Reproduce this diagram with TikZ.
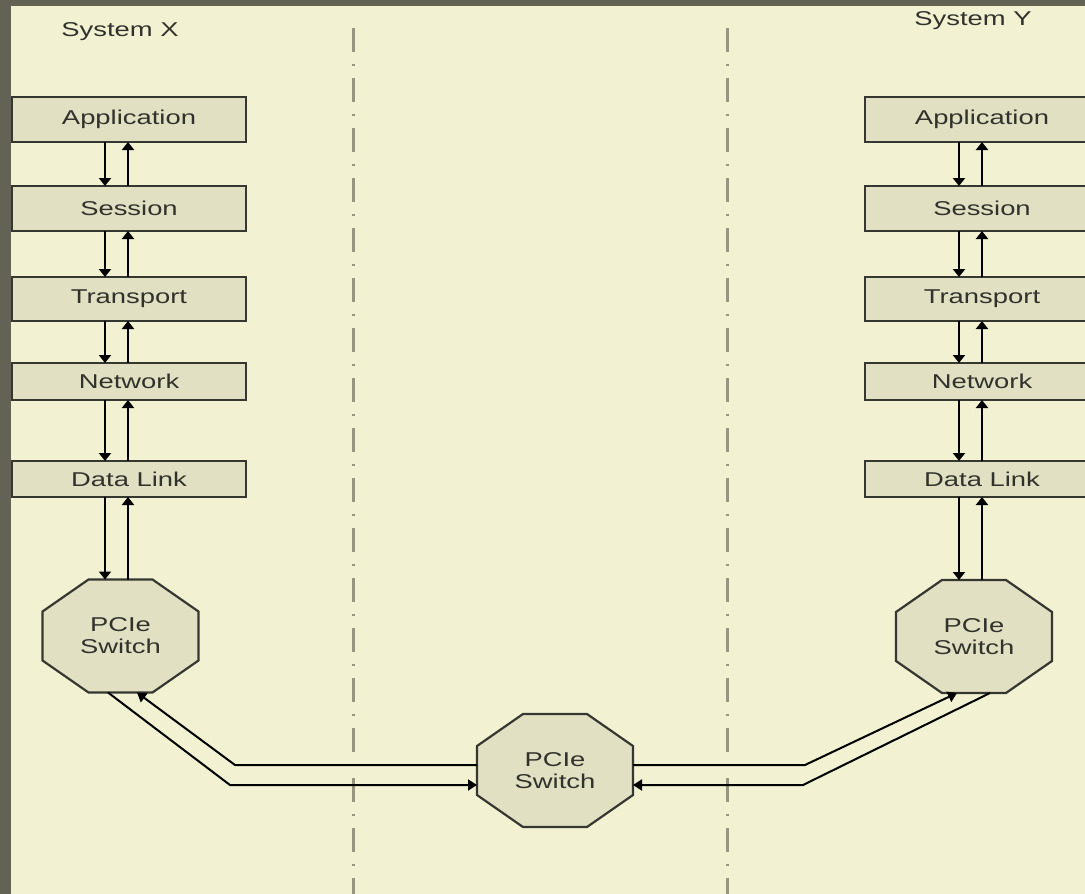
\documentclass[tikz,border=0pt]{standalone}
\usepackage{fontspec}
\setmainfont{Liberation Sans}[FakeStretch=1.37]
\usetikzlibrary{arrows.meta,calc}
\definecolor{darkbg}{RGB}{98,99,85}
\definecolor{cream}{RGB}{242,242,211}
\definecolor{boxfill}{RGB}{225,224,195}
\definecolor{edge}{RGB}{55,55,50}
\definecolor{txt}{RGB}{50,50,45}
\definecolor{dashc}{RGB}{150,150,130}
\pgfdeclarelayer{bgzero}
\pgfdeclarelayer{bgone}
\pgfsetlayers{bgzero,bgone,main}
\newcommand\octoshape[1]{%
  \begin{pgfonlayer}{bgone}
  \filldraw[octline] ($(#1.north west)+(46,0)$) -- ($(#1.north east)+(-46,0)$)
    -- ($(#1.north east)+(0,32)$) -- ($(#1.south east)+(0,-32)$)
    -- ($(#1.south east)+(-46,0)$) -- ($(#1.south west)+(46,0)$)
    -- ($(#1.south west)+(0,-32)$) -- ($(#1.north west)+(0,32)$) -- cycle;
  \end{pgfonlayer}}
\begin{document}
\begin{tikzpicture}[x=1pt,y=-1pt,
  lab/.style={text=txt, font=\fontsize{20}{22}\selectfont},
  layerbox/.style={lab, draw=edge, line width=2.4pt, fill=boxfill, minimum width=234pt, inner sep=0pt, outer sep=0pt},
  octnode/.style={lab, minimum width=156pt, minimum height=113pt, inner sep=0pt, outer sep=0pt, align=center},
  octline/.style={draw=edge, line width=2.2pt, fill=boxfill, line join=miter},
  arr/.style={draw=black, line width=2.2pt, -{Triangle[length=8pt,width=12pt]}},
  link/.style={draw=black, line width=2pt, line join=miter, -{Triangle[length=9pt,width=11pt]}},
  sepline/.style={draw=dashc, line width=3pt, dash pattern=on 24pt off 12pt on 2pt off 12pt}]
\useasboundingbox (0,0) rectangle (1085,894);
\begin{pgfonlayer}{bgzero}
  \fill[darkbg] (0,0) rectangle (1085,894);
  \fill[cream] (11,6) rectangle (1095,900);
\end{pgfonlayer}
\clip (0,0) rectangle (1085,894);
% separators
\coordinate (s1top) at (353,28); \coordinate (s1bot) at (353,894);
\coordinate (s2top) at (727,28); \coordinate (s2bot) at (727,894);
\draw[sepline] (s1top) -- (s1bot);
\draw[sepline] (s2top) -- (s2bot);
% titles
\node[lab] (tX) at (120,32) {System X};
\node[lab] (tY) at (973,21) {System Y};
% left stack
\node[layerbox, minimum height=45pt] (lA) at (129,119.5) {Application};
\node[layerbox, minimum height=45pt] (lS) at (129,208.5) {Session};
\node[layerbox, minimum height=44pt] (lT) at (129,299) {Transport};
\node[layerbox, minimum height=37pt] (lN) at (129,381.5) {Network};
\node[layerbox, minimum height=36pt] (lD) at (129,479) {Data Link};
\node[octnode] (lO) at (120.5,636) {PCIe\\Switch};
\octoshape{lO}
% right stack
\node[layerbox, minimum height=45pt] (rA) at (982,119.5) {Application};
\node[layerbox, minimum height=45pt] (rS) at (982,208.5) {Session};
\node[layerbox, minimum height=44pt] (rT) at (982,299) {Transport};
\node[layerbox, minimum height=37pt] (rN) at (982,381.5) {Network};
\node[layerbox, minimum height=36pt] (rD) at (982,479) {Data Link};
\node[octnode] (rO) at (974,636.5) {PCIe\\Switch};
\octoshape{rO}
% centre switch
\node[octnode] (cO) at (555,770.5) {PCIe\\Switch};
\octoshape{cO}
% vertical arrows
\coordinate (ld) at (105,0); \coordinate (lu) at (128,0);
\coordinate (rd) at (959,0); \coordinate (ru) at (982,0);
\foreach \a/\b in {lA/lS, lS/lT, lT/lN, lN/lD, lD/lO} {
  \draw[arr] (ld |- \a.south) -- (ld |- \b.north);
  \draw[arr] (lu |- \b.north) -- (lu |- \a.south);
}
\foreach \a/\b in {rA/rS, rS/rT, rT/rN, rN/rD, rD/rO} {
  \draw[arr] (rd |- \a.south) -- (rd |- \b.north);
  \draw[arr] (ru |- \b.north) -- (ru |- \a.south);
}
% links to centre switch
\draw[link] (cO.west |- 0,765) -- (235,765) -- (137,0 |- lO.south);
\draw[link] (108,0 |- lO.south) -- (230,785) -- (cO.west |- 0,785);
\draw[link] (cO.east |- 0,765) -- (805,765) -- (957,0 |- rO.south);
\draw[link] (990,0 |- rO.south) -- (803,785) -- (cO.east |- 0,785);
\end{tikzpicture}
\end{document}
